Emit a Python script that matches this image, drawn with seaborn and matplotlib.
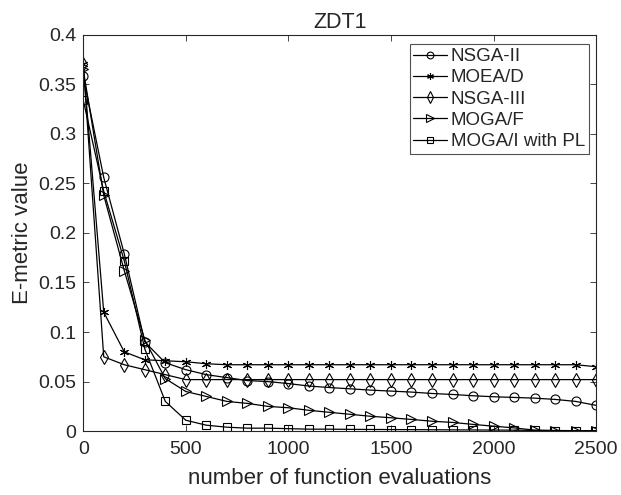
import matplotlib
matplotlib.use("Agg")
import matplotlib.pyplot as plt
import matplotlib.ticker as mticker
import numpy as np
import pandas as pd
import seaborn as sns

evals = list(range(0, 2600, 100))

nsga2 = [0.358, 0.256, 0.179, 0.090, 0.069, 0.062, 0.057, 0.054, 0.051, 0.050,
         0.048, 0.0455, 0.044, 0.0427, 0.0414, 0.0404, 0.0394, 0.038, 0.037, 0.0357,
         0.0347, 0.034, 0.0333, 0.032, 0.030, 0.026]
moead = [0.370, 0.120, 0.080, 0.072, 0.071, 0.070, 0.068, 0.067, 0.067, 0.067,
         0.067, 0.067, 0.067, 0.067, 0.067, 0.067, 0.067, 0.067, 0.067, 0.067,
         0.067, 0.067, 0.067, 0.067, 0.067, 0.065]
nsga3 = [0.370, 0.075, 0.067, 0.062, 0.057, 0.052, 0.052, 0.052, 0.052, 0.052,
         0.052, 0.052, 0.052, 0.052, 0.052, 0.052, 0.052, 0.052, 0.052, 0.052,
         0.052, 0.052, 0.052, 0.052, 0.052, 0.052]
mogaf = [0.365, 0.238, 0.162, 0.092, 0.053, 0.040, 0.035, 0.030, 0.028, 0.025,
         0.0236, 0.021, 0.019, 0.017, 0.015, 0.0135, 0.0118, 0.010, 0.0088, 0.0068,
         0.005, 0.0033, 0.001, 0.0006, 0.0005, 0.0005]
mogai = [0.334, 0.242, 0.172, 0.083, 0.030, 0.011, 0.006, 0.004, 0.003, 0.003,
         0.0025, 0.002, 0.002, 0.0018, 0.0017, 0.0016, 0.0015, 0.0014, 0.0013, 0.0012,
         0.0011, 0.001, 0.0007, 0.0006, 0.0005, 0.0005]

names = ["NSGA-II", "MOEA/D", "NSGA-III", "MOGA/F", "MOGA/I with PL"]
series = [nsga2, moead, nsga3, mogaf, mogai]
markers = ["o", (6, 2, 0), "d", ">", "s"]
msizes = [6.5, 6.5, 7.5, 7, 6]

sns.set_style("ticks")
plt.rcParams["font.family"] = ["Liberation Sans", "DejaVu Sans"]

fig = plt.figure(figsize=(6.21, 4.95), dpi=100)
ax = fig.add_axes([0.134, 0.129, 0.826, 0.801])

for name, vals, mk, ms in zip(names, series, markers, msizes):
    df = pd.DataFrame({"evals": evals, "value": vals})
    sns.lineplot(data=df, x="evals", y="value", ax=ax, color="black",
                 marker=mk, markersize=ms, markerfacecolor="none",
                 markeredgecolor="black", markeredgewidth=0.8,
                 linewidth=0.9, label=name)

ax.set_xlim(0, 2500)
ax.set_ylim(0, 0.4)
ax.set_xticks(np.arange(0, 2501, 500))
ax.set_yticks(np.arange(0, 0.401, 0.05))
ax.yaxis.set_major_formatter(mticker.FuncFormatter(lambda v, p: "%g" % round(v, 3)))
ax.xaxis.set_major_formatter(mticker.FuncFormatter(lambda v, p: "%g" % v))

tc = "#262626"
ax.tick_params(direction="in", top=True, right=True, length=4, width=0.6,
               labelsize=14, colors=tc, pad=5)
ax.tick_params(axis="x", pad=7)
for s in ax.spines.values():
    s.set_visible(True)
    s.set_color(tc)
    s.set_linewidth(0.8)

ax.set_xlabel("number of function evaluations", fontsize=16, color=tc, labelpad=7)
ax.set_ylabel("E-metric value", fontsize=16, color=tc, labelpad=4)
ax.set_title("ZDT1", fontsize=15.5, color=tc, pad=5)

leg = ax.legend(loc="upper right", bbox_to_anchor=(0.993, 0.985), fontsize=13.5,
                frameon=True, fancybox=False, handlelength=1.8, handletextpad=0.2,
                borderpad=0.2, labelspacing=0.22, borderaxespad=0.2,
                markerscale=0.75)
leg.get_frame().set_edgecolor(tc)
leg.get_frame().set_linewidth(0.8)
for t in leg.get_texts():
    t.set_color(tc)

fig.savefig("out.png", dpi=100)
